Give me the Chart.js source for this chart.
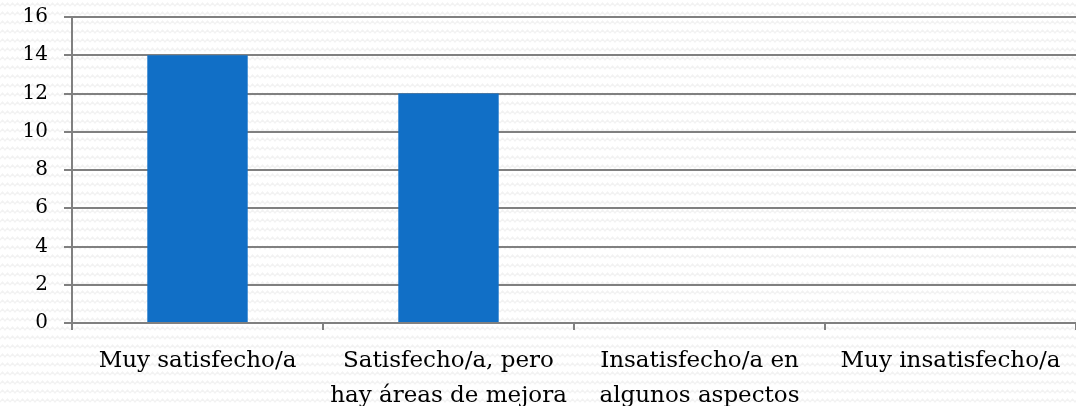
<!DOCTYPE html>
<html>
<head>
<meta charset="utf-8">
<script src="https://cdn.jsdelivr.net/npm/chart.js@4.4.1/dist/chart.umd.min.js"></script>
<style>
  html, body { margin: 0; padding: 0; }
  body {
    width: 1076px; height: 406px; overflow: hidden;
    background-color: #ffffff;
    background-image: url("data:image/svg+xml;utf8,<svg xmlns='http://www.w3.org/2000/svg' width='10' height='9'><polyline points='0,6 2.5,3 5,6 7.5,3 10,6' fill='none' stroke='%23f2f2f2' stroke-width='1.2'/></svg>");
  }
  .wrap { position: relative; width: 1076px; height: 406px; }
</style>
</head>
<body>
<div class="wrap"><canvas id="myChart"></canvas></div>
<script>
// datos
const categories = [
  'Muy satisfecho/a',
  ['Satisfecho/a, pero', 'hay áreas de mejora'],
  ['Insatisfecho/a en', 'algunos aspectos'],
  'Muy insatisfecho/a'
];
const values = [14, 12, 0, 0];
const yTicks = [0, 2, 4, 6, 8, 10, 12, 14, 16];

const fontFamily = "'DejaVu Serif', serif";
const gridColor = '#808080';

const ctx = document.getElementById('myChart');

const myChart = new Chart(ctx, {
  type: 'bar',
  data: {
    labels: categories,
    datasets: [{
      label: 'Serie 1',
      data: values,
      backgroundColor: '#116fc6',
      borderWidth: 0,
      categoryPercentage: 0.4,
      barPercentage: 1
    }]
  },
  options: {
    responsive: true,
    maintainAspectRatio: false,
    animation: false,
    layout: {
      padding: { top: 17, right: 0, bottom: 0, left: 0 }
    },
    plugins: {
      legend: { display: false },
      tooltip: { enabled: false }
    },
    scales: {
      x: {
        grid: {
          offset: true,
          drawOnChartArea: false,
          drawTicks: true,
          tickLength: 7,
          color: gridColor,
          lineWidth: 2
        },
        border: { color: gridColor, width: 2 },
        ticks: {
          color: '#000000',
          font: { family: fontFamily, size: 23, lineHeight: 1.5 },
          maxRotation: 0,
          autoSkip: false,
          padding: 14
        },
        afterFit: (scale) => {
          scale.height = 83;
          scale.paddingLeft = 0;
          scale.paddingRight = 0;
        }
      },
      y: {
        min: 0,
        max: 16,
        afterBuildTicks: (scale) => {
          scale.ticks = yTicks.map(v => ({ value: v }));
        },
        grid: {
          color: gridColor,
          lineWidth: 2,
          tickLength: 8
        },
        border: { color: gridColor, width: 2 },
        ticks: {
          color: '#000000',
          font: { family: fontFamily, size: 20 },
          padding: 16
        },
        afterFit: (scale) => {
          scale.width = 72;
          scale.paddingTop = 0;
          scale.paddingBottom = 0;
        }
      }
    }
  }
});
</script>
</body>
</html>
